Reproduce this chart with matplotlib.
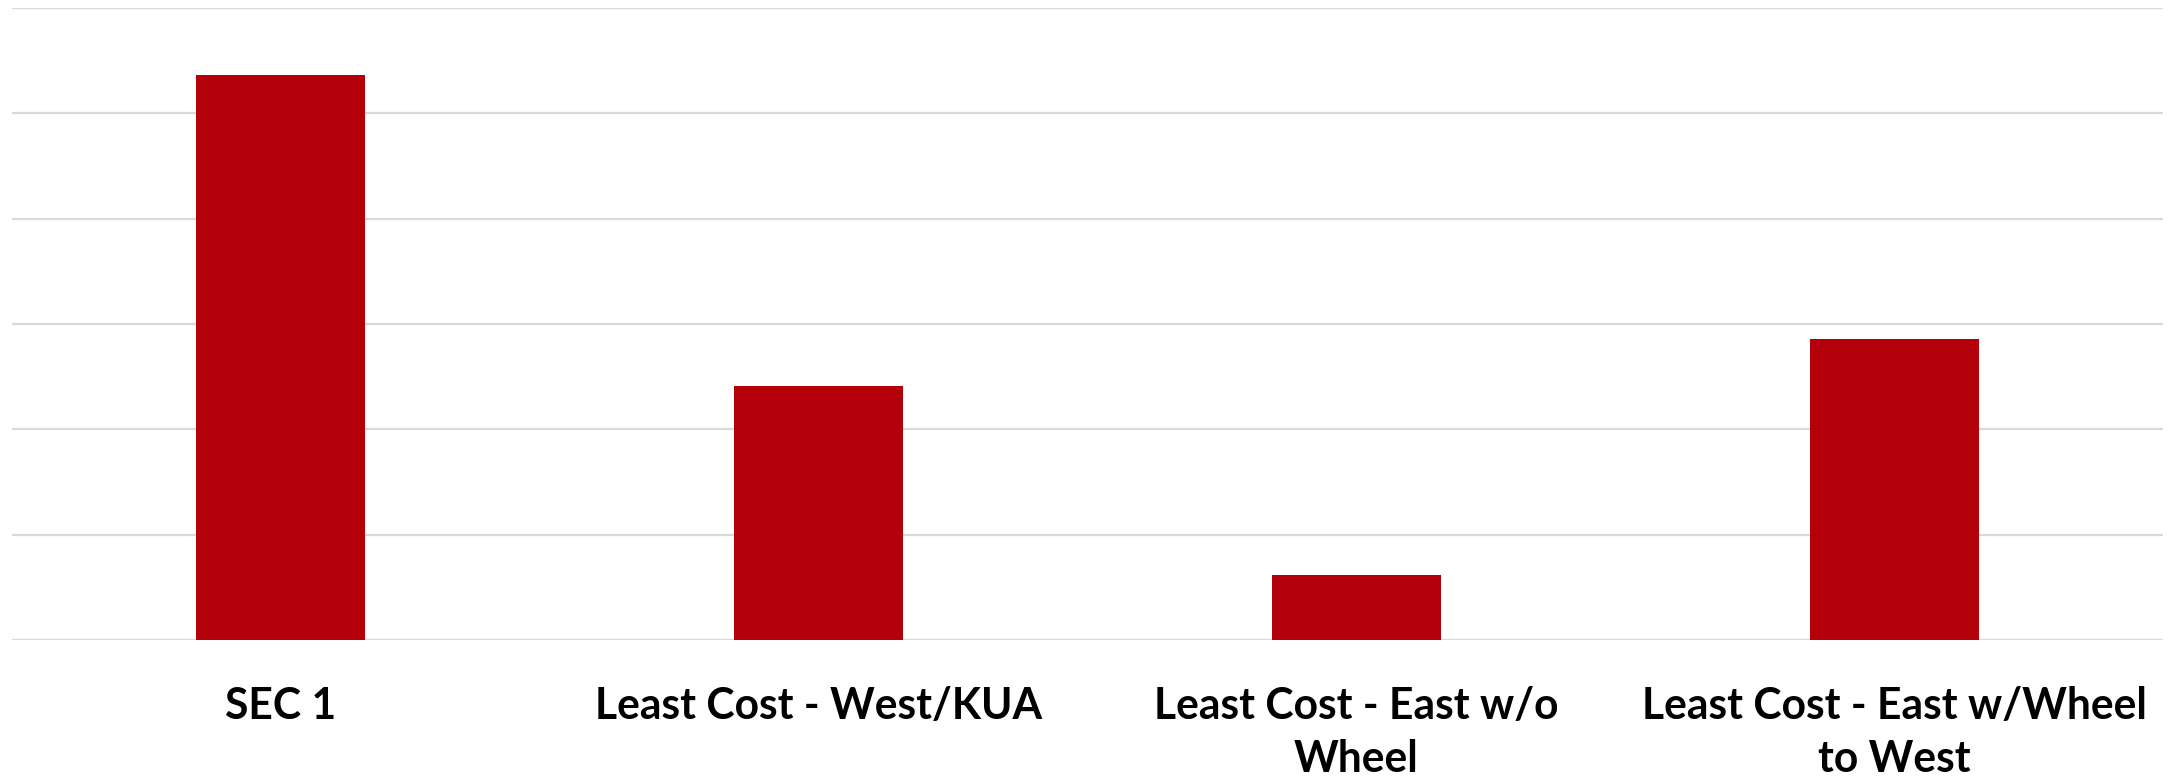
import matplotlib.pyplot as plt
import numpy as np

# scenario comparison, values in chart units (axis labels hidden)
scenarios = ['SEC 1', 'Least Cost - West/KUA', 'Least Cost - East w/o\nWheel',
             'Least Cost - East w/Wheel\nto West']
values = [5.36, 2.41, 0.62, 2.86]

fig = plt.figure(figsize=(21.75, 7.78), dpi=100)
ax = fig.add_axes([12 / 2175, 1 - 640 / 778, 2151 / 2175, 632 / 778])

x = np.arange(len(scenarios))
ax.bar(x, values, width=0.314, color='#B3000A', zorder=3)

ax.set_xlim(-0.5, len(scenarios) - 0.5)
ax.set_ylim(0, 6)
ax.set_yticks(np.arange(0, 7, 1))
ax.yaxis.grid(True, color='#D9D9D9', linewidth=1.6, zorder=0)
ax.tick_params(axis='y', length=0, labelleft=False)

ax.set_xticks(x)
ax.set_xticklabels(scenarios, fontsize=30.7, fontweight='bold', family='Lato',
                   linespacing=1.4)
ax.tick_params(axis='x', length=0, pad=33)

for side in ['top', 'right', 'left', 'bottom']:
    ax.spines[side].set_visible(False)

fig.savefig('out.png', dpi=100)
